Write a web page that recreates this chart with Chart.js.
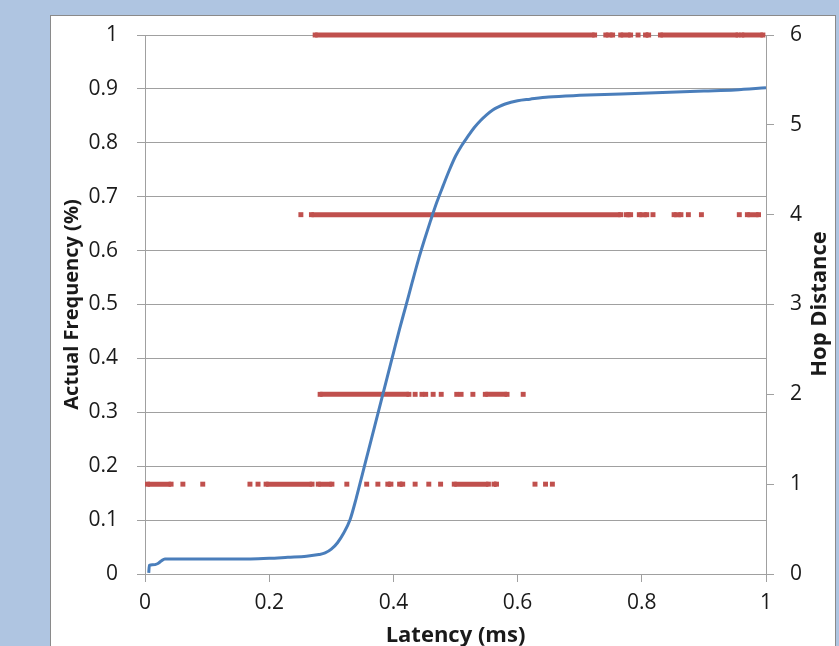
<!DOCTYPE html>
<html>
<head>
<meta charset="utf-8">
<script src="https://cdn.jsdelivr.net/npm/chart.js@4.4.1/dist/chart.umd.min.js"></script>
<style>
  html, body { margin: 0; padding: 0; }
  body { width: 839px; height: 646px; background: #afc5e1; position: relative; overflow: hidden; }
  #box { position: absolute; left: 50px; top: 15px; width: 784px; height: 660px; background: #fff; border: 1px solid #8a8a8a; }
  #chart { position: absolute; left: 0; top: 0; }
</style>
</head>
<body>
<div id="box"></div>
<canvas id="chart" width="839" height="646"></canvas>
<script>
// CDF of latency (blue line)
const latency = [0.006, 0.007, 0.012, 0.02, 0.026, 0.032, 0.1, 0.17, 0.2, 0.23, 0.26, 0.28, 0.29, 0.30, 0.31, 0.32, 0.33, 0.34, 0.35, 0.36, 0.37, 0.38, 0.39, 0.40, 0.41, 0.42, 0.43, 0.44, 0.45, 0.46, 0.47, 0.48, 0.49, 0.50, 0.51, 0.52, 0.53, 0.54, 0.55, 0.56, 0.57, 0.58, 0.60, 0.62, 0.65, 0.70, 0.80, 0.90, 0.95, 1.0];
const frequency = [0.002, 0.016, 0.017, 0.019, 0.024, 0.028, 0.028, 0.028, 0.029, 0.031, 0.033, 0.036, 0.039, 0.046, 0.058, 0.076, 0.10, 0.14, 0.185, 0.23, 0.275, 0.32, 0.365, 0.41, 0.455, 0.497, 0.54, 0.582, 0.62, 0.656, 0.69, 0.72, 0.749, 0.775, 0.795, 0.812, 0.828, 0.841, 0.852, 0.861, 0.867, 0.872, 0.878, 0.881, 0.885, 0.888, 0.892, 0.896, 0.898, 0.902];

// hop distance samples, as runs of latency [from, to]
const hop1 = [[0.004, 0.042], [0.061], [0.093], [0.169], [0.182], [0.195, 0.269], [0.279, 0.301], [0.325], [0.357], [0.375], [0.391, 0.396], [0.410, 0.415], [0.435], [0.457], [0.476], [0.498, 0.553], [0.562, 0.566], [0.628], [0.645], [0.656]];
const hop2 = [[0.282, 0.425], [0.435], [0.446], [0.452], [0.464], [0.477], [0.502], [0.509], [0.528], [0.548, 0.583], [0.609]];
const hop4 = [[0.251], [0.268, 0.766], [0.775, 0.782], [0.796, 0.808], [0.818], [0.852, 0.863], [0.875], [0.896], [0.957], [0.970, 0.988]];
const hop6 = [[0.274, 0.724], [0.742, 0.753], [0.766, 0.782], [0.794], [0.806, 0.811], [0.830, 0.955], [0.961, 0.995]];

const xTicks = [0, 0.2, 0.4, 0.6, 0.8, 1];

const BLUE = '#4a7ebb';
const RED = '#c0504d';
const GRID = '#a0a0a0';
const TEXT = '#1a1a1a';
const FONT = "'Open Sans', sans-serif";

function runsToPoints(runs, hop) {
  const pts = [];
  runs.forEach(r => {
    const a = r[0];
    const b = r.length > 1 ? r[1] : r[0];
    pts.push({ x: a, y: hop });
    if (b !== a) pts.push({ x: b, y: hop });
    pts.push({ x: b, y: null });
  });
  return pts;
}

function hopDataset(runs, hop) {
  return {
    data: runsToPoints(runs, hop),
    yAxisID: 'y1',
    showLine: true,
    clip: false,
    borderColor: RED,
    backgroundColor: RED,
    borderWidth: 5,
    borderCapStyle: 'butt',
    pointStyle: 'rect',
    pointRadius: 3.5,
    pointBorderWidth: 0,
    pointBackgroundColor: RED,
    spanGaps: false,
  };
}

// right axis title reads bottom-to-top like the left one
const rightTitle = {
  id: 'rightTitle',
  afterDraw(chart) {
    const ctx = chart.ctx;
    ctx.save();
    ctx.translate(820, 304);
    ctx.rotate(-Math.PI / 2);
    ctx.font = 'bold 22px ' + FONT;
    ctx.fillStyle = TEXT;
    ctx.textAlign = 'center';
    ctx.textBaseline = 'middle';
    ctx.fillText('Hop Distance', 0, 0);
    ctx.restore();
  },
};

const fmt = v => String(+Number(v).toFixed(1));

new Chart(document.getElementById('chart').getContext('2d'), {
  type: 'scatter',
  data: {
    datasets: [
      {
        data: latency.map((x, i) => ({ x, y: frequency[i] })),
        yAxisID: 'y',
        showLine: true,
        borderColor: BLUE,
        borderWidth: 3,
        pointRadius: 0,
        cubicInterpolationMode: 'monotone',
      },
      hopDataset(hop1, 1),
      hopDataset(hop2, 2),
      hopDataset(hop4, 4),
      hopDataset(hop6, 6),
    ],
  },
  options: {
    responsive: false,
    animation: false,
    layout: { padding: { top: 35, left: 0, right: 0, bottom: 0 } },
    plugins: { legend: { display: false }, tooltip: { enabled: false } },
    scales: {
      x: {
        type: 'linear',
        min: 0,
        max: 1,
        afterBuildTicks: s => { s.ticks = xTicks.map(v => ({ value: v })); },
        afterFit: s => { s.height = 72; },
        ticks: { callback: fmt, color: TEXT, font: { family: FONT, size: 21 }, padding: 8, maxRotation: 0 },
        grid: { drawOnChartArea: false, drawTicks: true, tickLength: 8, color: GRID },
        border: { color: GRID },
        title: { display: true, text: 'Latency (ms)', color: TEXT, font: { family: FONT, size: 22, weight: 'bold' }, padding: { top: 0, bottom: -3 } },
      },
      y: {
        position: 'left',
        min: 0,
        max: 1,
        ticks: { stepSize: 0.1, callback: fmt, color: TEXT, font: { family: FONT, size: 21 }, padding: 19 },
        afterFit: s => { s.width = 145; },
        grid: { color: GRID, tickLength: 8 },
        border: { color: GRID },
        title: { display: true, text: 'Actual Frequency (%)', color: TEXT, font: { family: FONT, size: 20, weight: 'bold' }, padding: { top: 60, bottom: 0 } },
      },
      y1: {
        position: 'right',
        min: 0,
        max: 6,
        ticks: { stepSize: 1, color: TEXT, font: { family: FONT, size: 21 }, padding: 16 },
        afterFit: s => { s.width = 73; },
        grid: { drawOnChartArea: false, tickLength: 8, color: GRID },
        border: { color: GRID },
      },
    },
  },
  plugins: [rightTitle],
});
</script>
</body>
</html>
